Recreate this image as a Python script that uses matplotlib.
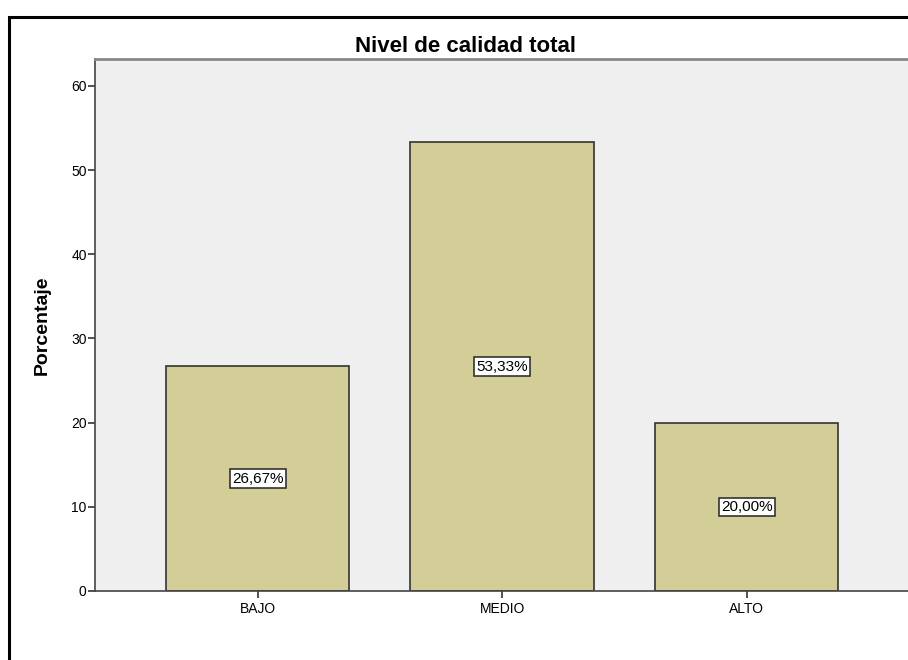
import matplotlib.pyplot as plt
from matplotlib.patches import Rectangle

categorias = ["BAJO", "MEDIO", "ALTO"]
porcentajes = [26.67, 53.33, 20.00]
etiquetas = ["26,67%", "53,33%", "20,00%"]
yticks = [0, 10, 20, 30, 40, 50, 60]

plt.rcParams['font.family'] = ['Liberation Sans', 'DejaVu Sans']

fig = plt.figure(figsize=(9.08, 6.6), dpi=100)
W, H = 908, 660

# outer frame of the chart
fig.patches.append(Rectangle((9 / W, -0.1), 1.2, 1 - 16.5 / H + 0.1,
                             transform=fig.transFigure, fill=False,
                             edgecolor="black", linewidth=2.2, zorder=0))

ax = fig.add_axes([95 / W, (H - 591) / H, 1 - 95 / W, (591 - 59) / H])
ax.set_facecolor("#efefef")

x = range(len(categorias))
ax.bar(x, porcentajes, width=0.75, color="#d3cd98", edgecolor="#333333", linewidth=1.2, zorder=2)

for i, (v, t) in enumerate(zip(porcentajes, etiquetas)):
    ax.text(i, v / 2, t, ha="center", va="center", fontsize=11, zorder=3,
            bbox=dict(boxstyle="square,pad=0.15", facecolor="white", edgecolor="#333333", linewidth=1.2))

ax.set_xlim(-0.665, 2.66)
ax.set_ylim(0, 63.2)
ax.set_xticks(list(x))
ax.set_xticklabels(categorias, fontsize=10)
ax.set_yticks(yticks)
ax.set_yticklabels([str(t) for t in yticks], fontsize=10)
ax.tick_params(axis="both", length=5, width=1.2, color="#333333", pad=1)
ax.tick_params(axis="x", pad=3)

for s in ["left", "bottom"]:
    ax.spines[s].set_color("#444444")
    ax.spines[s].set_linewidth(1.2)
ax.spines["top"].set_color("#888888")
ax.spines["top"].set_linewidth(2)
ax.spines["right"].set_visible(False)

fig.text(42 / W, 1 - 325 / H, "Porcentaje", rotation=90, ha="center", va="center",
         fontsize=14, fontweight="bold")
fig.text(465 / W, 1 - 46 / H, "Nivel de calidad total", ha="center", va="center",
         fontsize=16, fontweight="bold")

plt.savefig("out.png", dpi=100)
